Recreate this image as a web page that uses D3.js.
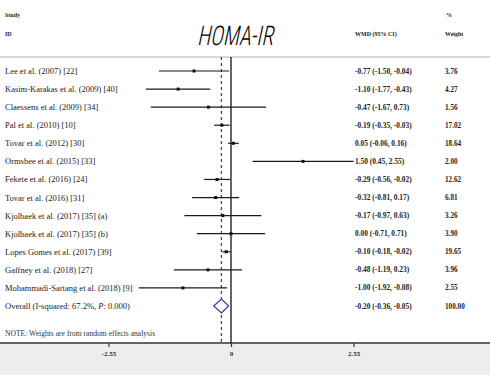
<!DOCTYPE html>
<html>
<head>
<meta charset="utf-8">
<script src="https://cdn.jsdelivr.net/npm/d3@7"></script>
<style>
  body { margin: 0; background: #fff; }
  svg { display: block; }
</style>
</head>
<body>
<div id="main"></div>
<script>
// study data
const studies = [
  "Lee et al. (2007) [22]",
  "Kasim-Karakas et al. (2009) [40]",
  "Claessens et al. (2009) [34]",
  "Pal et al. (2010) [10]",
  "Tovar et al. (2012) [30]",
  "Ormsbee et al. (2015) [33]",
  "Fekete et al. (2016) [24]",
  "Tovar et al. (2016) [31]",
  "Kjolbaek et al. (2017) [35] (a)",
  "Kjolbaek et al. (2017) [35] (b)",
  "Lopes Gomes et al. (2017) [39]",
  "Gaffney et al. (2018) [27]",
  "Mohammadi-Sartang et al. (2018) [9]"
];
const wmd   = [-0.77, -1.10, -0.47, -0.19, 0.05, 1.50, -0.29, -0.32, -0.17, 0.00, -0.10, -0.48, -1.00];
const lower = [-1.50, -1.77, -1.67, -0.35, -0.06, 0.45, -0.56, -0.81, -0.97, -0.71, -0.18, -1.19, -1.92];
const upper = [-0.04, -0.43, 0.73, -0.03, 0.16, 2.55, -0.02, 0.17, 0.63, 0.71, -0.02, 0.23, -0.08];
const weight = [3.76, 4.27, 1.56, 17.02, 18.64, 2.00, 12.62, 6.81, 3.26, 3.90, 19.65, 3.96, 2.55];

const overallLabel = "Overall (I-squared: 67.2%, ";
const overall = { est: -0.20, lo: -0.36, hi: -0.05, weight: 100.00 };

const ticks = [-2.55, 0, 2.55];

let width = 490;
let height = 375;
let svg = d3.select('#main').append('svg').attr('width', width).attr('height', height);

let x = d3.scaleLinear().domain([-2.55, 2.55]).range([108.5, 353.5]);
let rowY = d3.scaleLinear().domain([0, 13]).range([71, 306]);
let axisY = 343;
let topY = 57;
let serif = "'Liberation Serif', 'Times New Roman', serif";

// plain hyphen minus like the original
let fmt = d3.formatLocale({ decimal: '.', thousands: ',', grouping: [3], currency: ['', ''], minus: '-' }).format('.2f');

// grey band under the axis
svg.append('rect').attr('x', 0).attr('y', axisY).attr('width', width).attr('height', height - axisY).attr('fill', '#ededed');
svg.append('line').attr('x1', 0).attr('x2', width).attr('y1', topY).attr('y2', topY).attr('stroke', '#b0b0b0').attr('stroke-width', 1);

// headers
let hdr = svg.append('g').attr('font-family', serif).attr('font-weight', 'bold').attr('font-size', 6).attr('fill', '#222');
hdr.append('text').attr('x', 5).attr('y', 17).text('Study');
hdr.append('text').attr('x', 5).attr('y', 36).text('ID');
hdr.append('text').attr('x', 355).attr('y', 36).text('WMD (95% CI)');
hdr.append('text').attr('x', 446).attr('y', 17).text('%');
hdr.append('text').attr('x', 445).attr('y', 36).text('Weight');

// hand-written looking title: thin condensed face, slanted
svg.append('text').attr('transform', 'translate(197,45) skewX(-12)')
  .attr('font-family', "'Roboto Condensed', Roboto, Lato, sans-serif")
  .attr('font-weight', 300)
  .attr('font-size', 27).attr('textLength', 76).attr('lengthAdjust', 'spacingAndGlyphs')
  .attr('fill', '#000').text('HOMA-IR');

// zero line and overall dashed line
svg.append('line').attr('x1', x(0)).attr('x2', x(0)).attr('y1', topY).attr('y2', axisY).attr('stroke', '#111').attr('stroke-width', 1.3);
svg.append('line').attr('x1', x(overall.est)).attr('x2', x(overall.est)).attr('y1', topY).attr('y2', axisY)
  .attr('stroke', '#9b2a2a').attr('stroke-width', 1.3).attr('stroke-dasharray', '3,3');

// study rows
let rows = svg.selectAll('g.row').data(studies).join('g').attr('class', 'row')
  .attr('transform', (d, i) => `translate(0,${rowY(i)})`);
rows.append('text').attr('x', 5).attr('y', 3).attr('font-family', serif).attr('font-size', 8.5).attr('fill', '#222').text(d => d);
rows.append('line').attr('x1', (d, i) => x(lower[i])).attr('x2', (d, i) => x(upper[i]))
  .attr('stroke', '#1a1a1a').attr('stroke-width', 1.2);
rows.append('rect').attr('x', (d, i) => x(wmd[i]) - 1.5).attr('y', -1.5).attr('width', 3).attr('height', 3).attr('fill', '#111');
rows.append('text').attr('x', 355).attr('y', 2.5).attr('font-family', serif).attr('font-weight', 'bold').attr('font-size', 7.4).attr('fill', '#222')
  .text((d, i) => `${fmt(wmd[i])} (${fmt(lower[i])}, ${fmt(upper[i])})`);
rows.append('text').attr('x', 445).attr('y', 2.5).attr('font-family', serif).attr('font-weight', 'bold').attr('font-size', 7.2).attr('fill', '#222')
  .text((d, i) => fmt(weight[i]));

// overall row
let oy = rowY(13);
let ov = svg.append('text').attr('x', 5).attr('y', oy + 3).attr('font-family', serif).attr('font-size', 8.5).attr('fill', '#222');
ov.append('tspan').text(overallLabel);
ov.append('tspan').attr('font-style', 'italic').text('P');
ov.append('tspan').text(': 0.000)');
svg.append('path')
  .attr('d', `M${x(overall.lo)},${oy} L${x(overall.est)},${oy - 7} L${x(overall.hi)},${oy} L${x(overall.est)},${oy + 7} Z`)
  .attr('fill', '#fff').attr('stroke', '#2f3f9a').attr('stroke-width', 1.2);
svg.append('text').attr('x', 355).attr('y', oy + 2.5).attr('font-family', serif).attr('font-weight', 'bold').attr('font-size', 7.4).attr('fill', '#222')
  .text(`${fmt(overall.est)} (${fmt(overall.lo)}, ${fmt(overall.hi)})`);
svg.append('text').attr('x', 445).attr('y', oy + 2.5).attr('font-family', serif).attr('font-weight', 'bold').attr('font-size', 7.2).attr('fill', '#222')
  .text(fmt(overall.weight));

svg.append('text').attr('x', 5).attr('y', 336).attr('font-family', serif).attr('font-size', 7.6).attr('fill', '#333')
  .text('NOTE: Weights are from random effects analysis');

// axis
svg.append('line').attr('x1', 0).attr('x2', width).attr('y1', axisY).attr('y2', axisY).attr('stroke', '#333').attr('stroke-width', 1.3);
let ax = svg.append('g').attr('transform', `translate(0,${axisY})`)
  .call(d3.axisBottom(x).tickValues(ticks).tickSize(4).tickFormat(d => d === 0 ? '0' : fmt(d)));
ax.select('.domain').remove();
ax.selectAll('line').attr('stroke', '#333').attr('stroke-width', 1.2);
ax.selectAll('text').attr('font-family', serif).attr('font-weight', 'bold').attr('font-size', 7).attr('fill', '#333').attr('dy', '0.9em');
</script>
</body>
</html>
